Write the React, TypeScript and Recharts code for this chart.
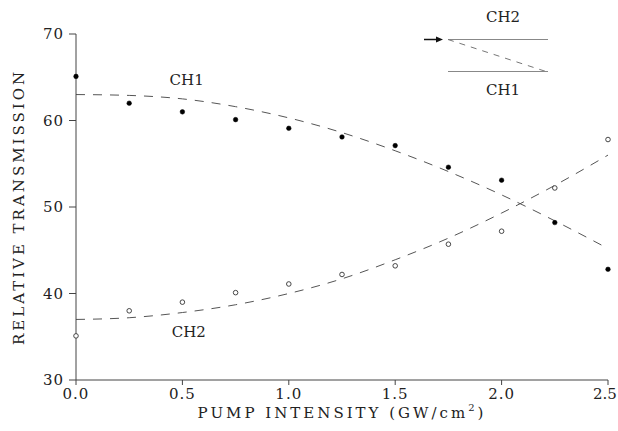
import { ComposedChart, Line, XAxis, YAxis, ReferenceDot } from "recharts";

const pump = [0, 0.25, 0.5, 0.75, 1.0, 1.25, 1.5, 1.75, 2.0, 2.25, 2.5];
const ch1Points = [65.1, 62.0, 61.0, 60.1, 59.1, 58.1, 57.1, 54.6, 53.1, 48.2, 42.8];
const ch2Points = [35.1, 38.0, 39.0, 40.1, 41.1, 42.2, 43.2, 45.7, 47.2, 52.2, 57.8];
// dashed fit curves
const ch1Fit = [63.0, 62.9, 62.5, 61.6, 60.3, 58.6, 56.5, 54.1, 51.4, 48.4, 45.2];
const ch2Fit = [37.0, 37.2, 37.8, 38.7, 40.0, 41.7, 43.9, 46.4, 49.3, 52.5, 56.0];
const xTicks = [0, 0.5, 1.0, 1.5, 2.0, 2.5];
const yTicks = [30, 40, 50, 60, 70];

const data = pump.map((x, i) => ({
  x,
  ch1: ch1Points[i],
  ch2: ch2Points[i],
  fit1: ch1Fit[i],
  fit2: ch2Fit[i],
}));

const FONT = "'DejaVu Serif', 'Liberation Serif', serif";
const INK = "#222";
const AXIS = "#444";
const tickStyle = { fontFamily: FONT, fontSize: 15, fill: INK, letterSpacing: 1 };

// keeps the last x label inside the frame
function XTick(props: any) {
  const { x, y, payload } = props;
  const last = payload.value === xTicks[xTicks.length - 1];
  return (
    <text
      x={last ? x - 3 : x}
      y={y + 12}
      textAnchor="middle"
      fontFamily={FONT}
      fontSize={15}
      fill={INK}
      letterSpacing={last ? 0 : 1}
    >
      {payload.value.toFixed(1)}
    </text>
  );
}

function XTitle() {
  return (
    <text x={342} y={418} textAnchor="middle" fontFamily={FONT} fontSize={15} fill={INK} letterSpacing={3}>
      PUMP INTENSITY (GW/cm
      <tspan dy={-7} fontSize={10}>2</tspan>
      <tspan dy={7}>)</tspan>
    </text>
  );
}

function YTitle() {
  return (
    <text
      x={24}
      y={207}
      transform="rotate(-90 24 207)"
      textAnchor="middle"
      fontFamily={FONT}
      fontSize={15}
      fill={INK}
      letterSpacing={3}
    >
      RELATIVE TRANSMISSION
    </text>
  );
}

function Inset() {
  return (
    <svg width={618} height={431} style={{ position: "absolute", left: 0, top: 0, pointerEvents: "none" }}>
      <text x={503} y={22} textAnchor="middle" fontFamily={FONT} fontSize={15} fill={INK}>
        CH2
      </text>
      <line x1={424} y1={39.5} x2={438} y2={39.5} stroke="#111" strokeWidth={1.5} />
      <polygon points="443,39.5 436,36.5 436,42.5" fill="#111" />
      <line x1={448} y1={39.5} x2={548} y2={39.5} stroke="#888" strokeWidth={1} />
      <line x1={448} y1={39.5} x2={546} y2={71.5} stroke="#777" strokeWidth={1} strokeDasharray="6 6" />
      <line x1={448} y1={71.5} x2={548} y2={71.5} stroke="#888" strokeWidth={1} />
      <text x={503} y={95} textAnchor="middle" fontFamily={FONT} fontSize={15} fill={INK}>
        CH1
      </text>
    </svg>
  );
}

export default function App() {
  return (
    <div style={{ position: "absolute", left: 0, top: 0, width: 618, height: 431, background: "#fff" }}>
      <ComposedChart width={618} height={431} data={data} margin={{ top: 34, right: 10, bottom: 0, left: 0 }}>
        <XAxis
          dataKey="x"
          type="number"
          domain={[0, 2.5]}
          ticks={xTicks}
          tick={<XTick />}
          tickSize={5}
          height={51}
          stroke={AXIS}
        />
        <YAxis
          type="number"
          domain={[30, 70]}
          ticks={yTicks}
          tick={tickStyle}
          tickSize={7}
          tickMargin={5}
          width={76}
          stroke={AXIS}
        />
        <Line
          dataKey="fit1"
          type="monotone"
          stroke="#555"
          strokeWidth={1}
          strokeDasharray="9 8"
          dot={false}
          isAnimationActive={false}
        />
        <Line
          dataKey="fit2"
          type="monotone"
          stroke="#555"
          strokeWidth={1}
          strokeDasharray="9 8"
          dot={false}
          isAnimationActive={false}
        />
        <Line
          dataKey="ch1"
          stroke="none"
          dot={{ r: 2.3, fill: "#000", stroke: "#000", strokeWidth: 0.5 }}
          activeDot={false}
          isAnimationActive={false}
        />
        <Line
          dataKey="ch2"
          stroke="none"
          dot={{ r: 2.3, fill: "#fff", stroke: "#333", strokeWidth: 0.9 }}
          activeDot={false}
          isAnimationActive={false}
        />
        <ReferenceDot
          x={0.52}
          y={64.7}
          r={0}
          fill="none"
          stroke="none"
          label={{ value: "CH1", position: "center", fontFamily: FONT, fontSize: 15, fill: INK }}
        />
        <ReferenceDot
          x={0.53}
          y={35.6}
          r={0}
          fill="none"
          stroke="none"
          label={{ value: "CH2", position: "center", fontFamily: FONT, fontSize: 15, fill: INK }}
        />
        <XTitle />
        <YTitle />
      </ComposedChart>
      <Inset />
    </div>
  );
}
